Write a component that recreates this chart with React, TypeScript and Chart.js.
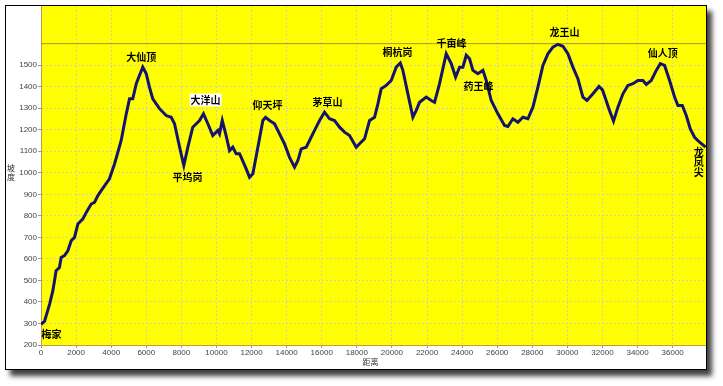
import React, { useEffect, useRef } from "react";
import { Chart, registerables } from "chart.js";

Chart.register(...registerables);

const distances = [0,200,490,670,770,860,1050,1150,1340,1530,1720,1910,2100,2380,2580,2860,3050,3240,3430,3900,4190,4570,4860,5045,5230,5430,5615,5800,6000,6180,6370,6755,7135,7420,7610,7900,8140,8370,8650,8850,9035,9260,9510,9790,10080,10175,10330,10550,10745,10930,11125,11315,11410,11695,11885,12075,12360,12645,12800,13025,13310,13595,13880,14165,14450,14640,14830,15115,15305,15590,15875,16160,16445,16730,17015,17300,17585,17965,18155,18440,18725,19010,19200,19390,19675,19960,20245,20475,20625,20910,21195,21385,21575,21955,22240,22430,22715,23095,23380,23630,23855,24045,24235,24425,24615,24900,25185,25375,25660,26040,26420,26610,26895,27180,27465,27750,28035,28320,28605,28890,29175,29460,29745,30030,30315,30600,30885,31115,31455,31800,32000,32150,32400,32630,32880,33165,33450,33735,34020,34305,34495,34780,35065,35295,35540,35825,36110,36300,36550,36775,37005,37250,37535,37875];

const elevations = [296,310,390,450,498,545,560,607,615,638,684,700,762,785,816,855,863,894,917,972,1041,1150,1274,1344,1344,1414,1453,1491,1460,1398,1344,1298,1266,1258,1228,1119,1034,1119,1212,1228,1243,1274,1228,1173,1197,1181,1243,1173,1103,1119,1088,1088,1072,1018,979,995,1119,1243,1258,1243,1228,1181,1134,1072,1026,1057,1111,1119,1150,1197,1243,1282,1251,1243,1212,1189,1173,1119,1135,1158,1243,1258,1320,1391,1406,1429,1491,1510,1476,1367,1258,1290,1328,1352,1336,1328,1414,1553,1507,1445,1491,1491,1546,1530,1476,1460,1476,1429,1336,1274,1220,1215,1251,1235,1258,1251,1305,1398,1499,1553,1584,1597,1588,1553,1491,1437,1352,1336,1367,1401,1385,1350,1290,1240,1305,1367,1406,1414,1429,1429,1411,1429,1476,1507,1499,1429,1352,1313,1313,1266,1204,1165,1142,1119];

const xTicks = [0,2000,4000,6000,8000,10000,12000,14000,16000,18000,20000,22000,24000,26000,28000,30000,32000,34000,36000];
const yTicks = [200,300,400,500,600,700,800,900,1000,1100,1200,1300,1400,1500];
const refLine = 1600;
const xMax = 37900;
const yMin = 200;
const yMax = 1775;

const placeNames = ["大仙顶","大洋山","平坞岗","仰天坪","茅草山","桐杭岗","千亩峰","药王峰","龙王山","仙人顶","龙凤尖","梅家"];
const placeDist = [5710,9380,8350,12910,16330,20320,23400,24940,29840,35430,37480,600];
const placeElev = [1537,1336,978,1313,1328,1560,1603,1401,1654,1554,1048,251];
const placeBoxed = [false,true,false,false,false,false,false,false,false,false,false,false];
const placeVertical = [false,false,false,false,false,false,false,false,false,false,true,false];

const xTitle = "距离";
const yTitle = "坡度";

export default function App() {
  const ref = useRef<HTMLCanvasElement | null>(null);
  useEffect(() => {
    if (!ref.current) return;
    const labelPlugin = {
      id: "labels",
      beforeDraw(chart: any) {
        const { ctx, chartArea } = chart;
        ctx.save();
        ctx.fillStyle = "#ffffff";
        ctx.fillRect(0, 0, chart.width, chart.height);
        ctx.fillStyle = "#ffff00";
        ctx.fillRect(chartArea.left, chartArea.top, chartArea.right - chartArea.left, chartArea.bottom - chartArea.top);
        ctx.restore();
      },
      afterDatasetsDraw(chart: any) {
        const { ctx, scales } = chart;
        const xs = scales.x, ys = scales.y;
        ctx.save();
        ctx.font = "bold 10px 'Noto Sans CJK SC'";
        ctx.textAlign = "center";
        ctx.textBaseline = "middle";
        placeNames.forEach((name, i) => {
          const px = xs.getPixelForValue(placeDist[i]);
          const py = ys.getPixelForValue(placeElev[i]);
          if (placeVertical[i]) {
            const chars = Array.from(name);
            chars.forEach((c, k) => {
              ctx.fillStyle = "#000";
              ctx.fillText(c, px, py + (k - (chars.length - 1) / 2) * 10);
            });
            return;
          }
          if (placeBoxed[i]) {
            const w = ctx.measureText(name).width;
            ctx.fillStyle = "#ffffff";
            ctx.fillRect(px - w / 2 - 1, py - 7, w + 2, 13);
          }
          ctx.fillStyle = "#000";
          ctx.fillText(name, px, py);
        });
        ctx.font = "8px 'Noto Sans CJK SC'";
        ctx.fillStyle = "#333";
        ctx.fillText(xTitle, (chart.chartArea.left + chart.chartArea.right) / 2 - 3, chart.height - 7);
        const yc = (chart.chartArea.top + chart.chartArea.bottom) / 2;
        Array.from(yTitle).forEach((c, k) => {
          ctx.fillText(c, 5, yc - 8 + k * 9);
        });
        ctx.restore();
      },
    };
    const chart = new Chart(ref.current, {
      type: "line",
      data: {
        datasets: [
          {
            data: distances.map((d, i) => ({ x: d, y: elevations[i] })),
            borderColor: "#14146e",
            borderWidth: 3,
            pointRadius: 0,
            tension: 0,
            fill: false,
          },
          {
            data: [{ x: 0, y: refLine }, { x: xMax, y: refLine }],
            borderColor: "#b48c3c",
            borderWidth: 1,
            pointRadius: 0,
            fill: false,
          },
        ],
      },
      options: {
        animation: false,
        responsive: false,
        maintainAspectRatio: false,
        layout: { padding: 0 },
        plugins: { legend: { display: false }, tooltip: { enabled: false }, title: { display: false } },
        scales: {
          x: {
            type: "linear",
            min: 0,
            max: xMax,
            afterBuildTicks: (s: any) => { s.ticks = xTicks.map((v) => ({ value: v })); },
            afterFit: (s: any) => { s.height = 24; s.paddingLeft = 0; s.paddingRight = 0; },
            ticks: { autoSkip: false, maxRotation: 0, padding: 0, color: "#444", font: { family: "'Liberation Sans'", size: 8 }, callback: (v: any) => String(v) },
            grid: { color: "rgba(205,205,190,0.95)", tickLength: 3, lineWidth: 1, tickColor: "#999" },
            border: { display: true, color: "#c09a4a", width: 1, dash: [2, 2] },
          },
          y: {
            type: "linear",
            min: yMin,
            max: yMax,
            afterBuildTicks: (s: any) => { s.ticks = yTicks.map((v) => ({ value: v })); },
            afterFit: (s: any) => { s.width = 35; s.paddingTop = 0; s.paddingBottom = 0; },
            ticks: { autoSkip: false, padding: 1, color: "#444", font: { family: "'Liberation Sans'", size: 8 }, callback: (v: any) => String(v) },
            grid: { color: "rgba(205,205,190,0.95)", tickLength: 3, lineWidth: 1, tickColor: "#999" },
            border: { display: true, color: "#c09a4a", width: 1, dash: [2, 2] },
          },
        },
      },
      plugins: [labelPlugin],
    });
    return () => chart.destroy();
  }, []);
  return (
    <div style={{ position: "fixed", left: 0, top: 0, width: 723, height: 386, background: "#fff" }}>
      <div
        style={{
          position: "absolute",
          left: 5,
          top: 5,
          width: 700,
          height: 363,
          border: "1px solid #000",
          background: "#fff",
          boxShadow: "5px 6px 5px rgba(0,0,0,0.75)",
        }}
      >
        <canvas ref={ref} width={700} height={363} style={{ display: "block", width: 700, height: 363 }} />
      </div>
    </div>
  );
}
